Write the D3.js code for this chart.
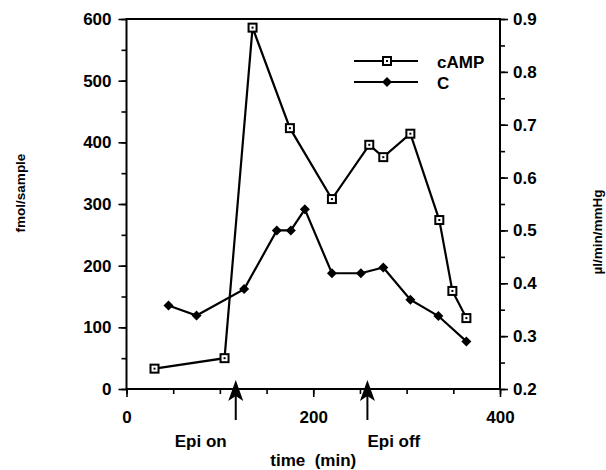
<!DOCTYPE html>
<html>
<head>
<meta charset="utf-8">
<script src="https://cdn.jsdelivr.net/npm/d3@7"></script>
<style>
  body { margin: 0; background: #fff; }
  text { font-family: "Liberation Sans", Arial, sans-serif; font-weight: bold; fill: #000; }
</style>
</head>
<body>
<div id="plot"></div>
<script>
// values
const campTime = [30, 105, 135, 175, 220, 260, 275, 304, 335, 349, 364];
const campVal  = [33, 50, 586, 423, 308, 396, 376, 414, 274, 159, 115];
const cTime = [45, 75, 126, 161, 176, 191, 220, 251, 275, 304, 334, 364];
const cVal  = [0.358, 0.339, 0.389, 0.500, 0.500, 0.540, 0.419, 0.419, 0.430, 0.369, 0.338, 0.290];
const xTicks = [0, 200, 400];
const leftTicks = [0, 100, 200, 300, 400, 500, 600];
const rightTicks = [0.2, 0.3, 0.4, 0.5, 0.6, 0.7, 0.8, 0.9];
const epiTimes = [117, 258];
const epiLabels = ['Epi on', 'Epi off'];
const legendNames = ['cAMP', 'C'];

window.addEventListener('load', main);

function main(){
  let [ W, H ] = [606, 470];
  let svg = d3.select('#plot').append('svg')
              .attr('width', W)
              .attr('height', H);

  let [ left, right, top, bottom ] = [126.5, 500, 19, 389];

  let scX = d3.scaleLinear().domain([0, 400]).range([left, right]);
  let scL = d3.scaleLinear().domain([0, 600]).range([bottom, top]);
  let scR = d3.scaleLinear().domain([0.2, 0.9]).range([bottom, top]);

  // frame
  svg.append('rect')
     .attr('x', left).attr('y', top)
     .attr('width', right - left).attr('height', bottom - top)
     .attr('fill', 'none').attr('stroke', '#000').attr('stroke-width', 2);

  // minor ticks
  let minor = function(t, gen, vals){
    let g = svg.append('g').attr('transform', t)
               .call(gen.tickValues(vals).tickSize(5).tickFormat(''));
    g.select('.domain').remove();
    g.selectAll('line').attr('stroke-width', 1.6);
  };
  minor(`translate(0,${bottom})`, d3.axisBottom(scX), d3.range(0, 401, 50));
  minor(`translate(${left},0)`, d3.axisLeft(scL), d3.range(0, 601, 50));
  minor(`translate(${right},0)`, d3.axisRight(scR), d3.range(0.2, 0.901, 0.05));

  // major ticks with labels
  let major = function(t, gen, vals, fmt, pad){
    let g = svg.append('g').attr('transform', t)
               .call(gen.tickValues(vals).tickSize(8).tickPadding(pad).tickFormat(fmt));
    g.select('.domain').remove();
    g.selectAll('line').attr('stroke-width', 1.6);
    g.selectAll('text').attr('font-size', 17)
     .style('font-family', '"Liberation Sans", Arial, sans-serif')
     .style('font-weight', 'bold');
    return g;
  };
  major(`translate(0,${bottom})`, d3.axisBottom(scX), xTicks, d3.format('d'), 14);
  major(`translate(${left},0)`, d3.axisLeft(scL), leftTicks, d3.format('d'), 7);
  major(`translate(${right},0)`, d3.axisRight(scR), rightTicks, d3.format('.1f'), 5);

  // axis titles
  svg.append('text')
     .attr('transform', 'translate(25,193) rotate(-90)')
     .attr('text-anchor', 'middle').attr('font-size', 13.5)
     .text('fmol/sample');
  svg.append('text')
     .attr('transform', 'translate(602,232) rotate(-90)')
     .attr('text-anchor', 'middle').attr('font-size', 13.5)
     .text('µl/min/mmHg');
  svg.append('text')
     .attr('x', scX(200)).attr('y', 466)
     .attr('text-anchor', 'middle').attr('font-size', 17)
     .attr('xml:space', 'preserve')
     .text('time  (min)');

  // Epi arrows
  epiTimes.forEach((t, i) => {
    let x = scX(t);
    svg.append('line')
       .attr('x1', x).attr('x2', x).attr('y1', bottom + 2).attr('y2', 420)
       .attr('stroke', '#000').attr('stroke-width', 2);
    svg.append('path')
       .attr('d', `M${x},${bottom - 9} L${x - 7.5},${bottom + 12} L${x},${bottom + 7} L${x + 7.5},${bottom + 12} Z`)
       .attr('fill', '#000');
    svg.append('text')
       .attr('x', i === 0 ? x - 9 : x).attr('y', 447)
       .attr('text-anchor', i === 0 ? 'end' : 'start').attr('font-size', 17)
       .text(epiLabels[i]);
  });

  // lines
  let campData = campTime.map((t, i) => ({ t: t, v: campVal[i] }));
  let cData = cTime.map((t, i) => ({ t: t, v: cVal[i] }));

  let lineL = d3.line().x(d => scX(d.t)).y(d => scL(d.v));
  let lineR = d3.line().x(d => scX(d.t)).y(d => scR(d.v));

  svg.append('path').attr('d', lineR(cData))
     .attr('fill', 'none').attr('stroke', '#000').attr('stroke-width', 2.2);
  svg.append('path').attr('d', lineL(campData))
     .attr('fill', 'none').attr('stroke', '#000').attr('stroke-width', 2.2);

  let square = function(x, y){
    svg.append('rect').attr('x', x - 4).attr('y', y - 4).attr('width', 8).attr('height', 8)
       .attr('fill', '#fff').attr('stroke', '#000').attr('stroke-width', 2);
    svg.append('rect').attr('x', x - 1).attr('y', y - 1).attr('width', 2).attr('height', 2)
       .attr('fill', '#000');
  };
  let diamond = function(x, y){
    svg.append('path').attr('d', `M${x},${y - 5} L${x + 5},${y} L${x},${y + 5} L${x - 5},${y} Z`)
       .attr('fill', '#000');
  };

  cData.forEach(d => diamond(scX(d.t), scR(d.v)));
  campData.forEach(d => square(scX(d.t), scL(d.v)));

  // legend
  let legY = [61, 82];
  legY.forEach((y, i) => {
    svg.append('line').attr('x1', 354).attr('x2', 418).attr('y1', y).attr('y2', y)
       .attr('stroke', '#000').attr('stroke-width', 2);
    if (i === 0) square(387, y); else diamond(387, y);
    svg.append('text').attr('x', 437).attr('y', y + 7).attr('font-size', 17)
       .text(legendNames[i]);
  });
}
</script>
</body>
</html>
